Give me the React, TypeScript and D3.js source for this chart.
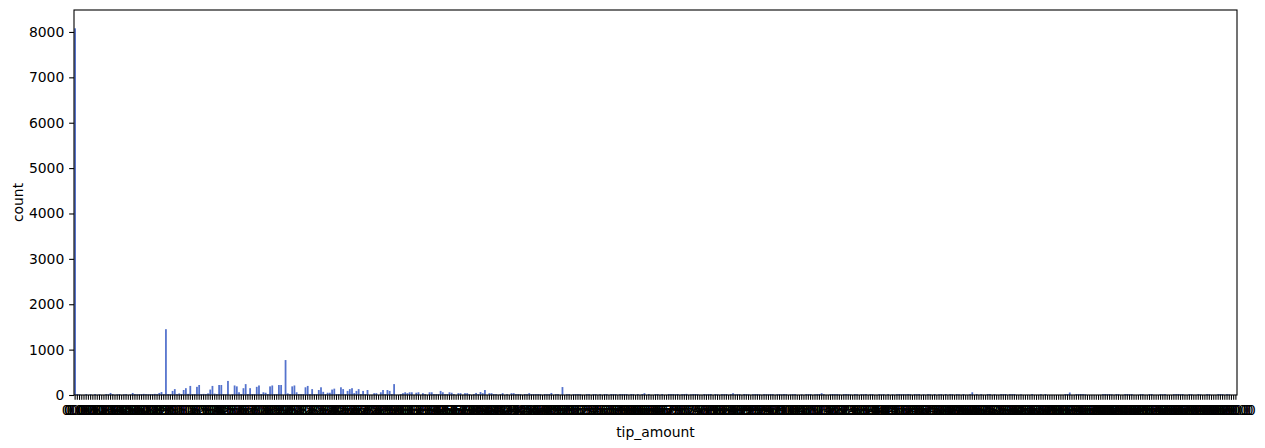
import * as d3 from 'd3';
import React, { useEffect, useRef } from 'react';

// category labels (tip_amount values as matplotlib prints them)
const tipAmounts: string[] = `
0.0 0.01 0.02 0.03 0.05 0.08 0.1 0.11 0.15 0.18 0.2 0.22 0.25 0.28 0.3 0.33 0.35 0.38 0.4 0.42 0.45 0.48 0.5 0.52 0.55 0.58 0.6 0.62 0.65 0.68 0.7 0.72 0.75 0.78 0.8 0.82 0.85 0.88 0.9 0.95 0.99
1.0
1.02 1.05 1.08 1.1 1.11 1.12 1.15 1.16 1.18 1.2 1.22 1.25 1.26 1.28 1.3 1.31 1.32 1.35 1.36 1.38 1.4 1.42 1.45 1.46 1.48 1.5 1.51 1.52 1.55 1.56 1.58 1.6 1.62 1.65 1.66 1.68 1.7 1.71 1.72 1.75 1.76 1.78 1.8 1.82 1.85 1.86 1.88 1.9 1.91 1.92 1.95 1.96 1.98
2.0
2.02 2.05 2.08 2.1 2.12 2.15 2.16 2.18 2.2 2.22 2.25 2.26 2.28 2.3 2.32 2.35 2.36 2.38 2.4 2.42 2.45 2.46 2.48 2.5 2.52 2.55 2.56 2.58 2.6 2.62 2.65 2.66 2.68 2.7 2.72 2.75 2.76 2.78 2.8 2.82 2.85 2.86 2.88 2.9 2.92 2.95 2.96 2.98
3.0
3.01 3.02 3.05 3.08 3.1 3.12 3.15 3.18 3.2 3.22 3.25 3.28 3.3 3.32 3.35 3.38 3.4 3.42 3.45 3.48 3.5 3.52 3.55 3.58 3.6 3.62 3.65 3.68 3.7 3.72 3.75 3.78 3.8 3.82 3.85 3.88 3.9 3.92 3.95 3.98
4.0
4.02 4.05 4.08 4.1 4.12 4.15 4.18 4.2 4.25 4.28 4.3 4.32 4.35 4.4 4.45 4.48 4.5 4.52 4.55 4.6 4.65 4.68 4.7 4.72 4.75 4.8 4.82 4.85 4.88 4.9 4.92 4.95 4.98 4.99
5.0
5.02 5.05 5.08 5.1 5.12 5.15 5.2 5.25 5.3 5.32 5.35 5.4 5.45 5.5 5.52 5.55 5.6 5.65 5.7 5.72 5.75 5.8 5.85 5.88 5.9 5.92 5.95 5.96 5.98 5.99
6.0
6.02 6.05 6.1 6.15 6.2 6.25 6.3 6.35 6.4 6.45 6.5 6.55 6.6 6.65 6.7 6.75 6.8 6.85 6.9 6.95
7.0
7.05 7.1 7.2 7.25 7.3 7.4 7.5 7.55 7.6 7.7 7.75 7.8 7.85 7.9 7.95
8.0
8.05 8.1 8.2 8.25 8.3 8.4 8.5 8.55 8.6 8.7 8.75 8.8 8.85 8.9 8.95
9.0
9.05 9.1 9.2 9.25 9.3 9.4 9.5 9.6 9.7 9.75 9.8 9.9
10.0
10.05 10.1 10.2 10.25 10.3 10.4 10.5 10.6 10.7 10.75 10.8 10.9
11.0
11.1 11.2 11.25 11.3 11.4 11.5 11.6 11.7 11.75 11.8
12.0
12.1 12.2 12.25 12.3 12.4 12.5 12.6 12.7 12.75 12.8
13.0
13.1 13.2 13.25 13.4 13.5 13.6 13.75 13.8
14.0
14.1 14.2 14.25 14.4 14.5 14.6 14.75 14.8
15.0
15.1 15.2 15.25 15.4 15.5 15.6 15.75 15.8
16.0
16.2 16.25 16.4 16.5 16.6 16.8
17.0
17.2 17.25 17.4 17.5 17.6 17.8
18.0
18.2 18.4 18.5 18.6 18.8
19.0
19.2 19.4 19.5 19.6 19.8
20.0
20.2 20.4 20.5 20.6 20.8
21.0
21.2 21.5 21.6 21.8
22.0
22.2 22.5 22.6 22.8
23.0
23.2 23.5 23.8
24.0
24.2 24.5 24.8
25.0
25.2 25.5 25.8
26.0
26.4 26.5
27.0
27.5 27.8
28.0
28.5 28.8
29.0
29.5 29.8
30.0
30.5 30.8
31.0
31.5 32.0 32.5 33.0 33.5 34.0 34.5 35.0 35.5 36.0 36.5 37.0 37.5 38.0 38.5 39.0 39.5 40.0
40.5 41.0 41.5 42.0 42.5 43.0 43.5 44.0 44.5 45.0 45.5 46.0 46.5 47.0 47.5 48.0 48.5 49.0 49.5 50.0
51.0 52.0 53.0 54.0 55.0 56.0 57.0 58.0 59.0 60.0 61.0 62.0 63.0 64.0 65.0 66.0 67.0 68.0 69.0 70.0
71.0 72.0 73.0 74.0 75.0 76.0 77.0 78.0 79.0 80.0 85.0 90.0 95.0 100.0 110.0 120.0 130.0 150.0
`.trim().split(/\s+/);

// count per tip_amount, same order as tipAmounts
const tipCounts: number[] = [
  8080, 20, 15, 2, 3, 20, 1, 15, 2, 20,
  3, 15, 1, 2, 20, 15, 45, 20, 3, 15,
  20, 2, 15, 20, 1, 15, 45, 20, 15, 20,
  20, 25, 20, 15, 20, 20, 25, 20, 45, 65,
  20, 1450, 20, 20, 90, 130, 20, 35, 20, 110,
  150, 25, 200, 20, 20, 180, 220, 20, 25, 20,
  35, 120, 200, 30, 20, 220, 220, 20, 15, 310,
  3, 15, 210, 190, 60, 20, 150, 240, 20, 150,
  20, 20, 180, 210, 20, 60, 50, 20, 190, 210,
  20, 20, 220, 220, 4, 770, 35, 20, 190, 210,
  60, 20, 20, 20, 170, 200, 20, 130, 20, 20,
  110, 170, 70, 20, 50, 50, 120, 140, 20, 20,
  170, 130, 20, 90, 130, 150, 40, 90, 130, 20,
  90, 20, 110, 2, 3, 40, 40, 1, 60, 110,
  20, 110, 90, 20, 240, 3, 2, 20, 40, 60,
  40, 60, 60, 2, 50, 60, 3, 40, 20, 1,
  60, 60, 20, 20, 20, 90, 60, 20, 20, 60,
  50, 20, 2, 40, 40, 3, 40, 40, 20, 1,
  20, 45, 20, 65, 40, 110, 2, 40, 40, 20,
  20, 3, 20, 40, 1, 20, 2, 40, 40, 20,
  20, 20, 3, 20, 20, 40, 20, 20, 20, 20,
  20, 2, 20, 20, 20, 45, 1, 20, 20, 3,
  175, 2, 20, 20, 1, 20, 20, 20, 20, 3,
  2, 20, 20, 1, 20, 20, 3, 20, 2, 20,
  20, 1, 20, 20, 20, 2, 20, 20, 20, 20,
  3, 20, 20, 2, 20, 1, 20, 40, 2, 20,
  3, 1, 20, 20, 2, 20, 1, 3, 20, 20,
  20, 15, 22, 2, 18, 20, 25, 1, 15, 20,
  22, 18, 3, 2, 20, 15, 18, 22, 1, 20,
  15, 2, 20, 18, 22, 3, 20, 40, 15, 20,
  18, 1, 22, 20, 15, 2, 18, 20, 22, 15,
  3, 20, 18, 15, 22, 20, 2, 18, 20, 15,
  22, 20, 1, 15, 18, 20, 3, 2, 15, 1,
  20, 18, 22, 2, 15, 20, 22, 40, 18, 3,
  1, 20, 22, 18, 20, 15, 2, 20, 22, 18,
  15, 3, 20, 18, 1, 20, 15, 22, 2, 20,
  18, 1, 3, 20, 15, 18, 2, 20, 1, 15,
  3, 20, 22, 18, 20, 15, 22, 20, 2, 20,
  18, 22, 1, 15, 3, 20, 18, 2, 20, 1,
  15, 20, 3, 22, 2, 20, 18, 1, 20, 15,
  2, 20, 3, 1, 18, 60, 2, 20, 1, 18,
  3, 2, 20, 22, 1, 15, 3, 2, 20, 18,
  22, 1, 20, 18, 20, 3, 2, 15, 1, 2,
  3, 1, 20, 2, 1, 3, 18, 2, 20, 1,
  2, 3, 1, 2, 1, 3, 2, 20, 22, 55,
  2, 3, 20, 18, 22, 20, 15, 2, 1, 3,
  2, 1, 2, 3, 20, 22, 18, 20, 15, 2,
  20, 18, 1, 3, 20, 22, 18, 20, 2, 1,
  3, 20, 18, 2, 1, 20, 22, 2, 3, 1,
  20, 15, 20, 2, 1, 3, 18, 20, 22, 18,
  20, 2, 1, 20, 18, 2, 3, 20, 15, 1,
  2, 20, 18, 3, 1, 2, 20, 22, 18, 2,
  20, 15, 1, 2, 3,
];

const yTicks = [0, 1000, 2000, 3000, 4000, 5000, 6000, 7000, 8000];

export default function App() {
  const svgRef = useRef<SVGSVGElement>(null);
  const width = 1265;
  const height = 448;

  useEffect(() => {
    document.body.style.margin = '0';
    const svg = d3.select(svgRef.current);
    const margin = { top: 10, right: 28, bottom: 53, left: 74 };
    const plotWidth = width - margin.left - margin.right;
    const plotHeight = height - margin.top - margin.bottom;
    const font = 'DejaVu Sans, sans-serif';
    const fontSize = 13.9;
    const tick = 4.86;

    svg.selectAll('*').remove();

    const g = svg
      .append('g')
      .attr('transform', `translate(${margin.left},${margin.top})`);

    const x = d3
      .scaleBand()
      .domain(tipAmounts)
      .range([0, plotWidth])
      .paddingInner(0.2)
      .paddingOuter(0.1);

    const y = d3
      .scaleLinear()
      .domain([0, d3.max(tipCounts) * 1.05])
      .range([plotHeight, 0]);

    g.selectAll('.bar')
      .data(tipAmounts)
      .enter()
      .append('rect')
      .attr('class', 'bar')
      .attr('x', (d) => x(d))
      .attr('y', (d, i) => y(tipCounts[i]))
      .attr('width', x.bandwidth())
      .attr('height', (d, i) => plotHeight - y(tipCounts[i]))
      .attr('fill', '#5573cd');

    const xAxis = g
      .append('g')
      .attr('transform', `translate(0,${plotHeight})`)
      .call(d3.axisBottom(x).tickSize(tick).tickPadding(tick));
    xAxis.select('.domain').remove();
    xAxis.selectAll('line').attr('stroke', '#000').attr('stroke-width', 1.1);
    xAxis
      .selectAll('text')
      .attr('dy', '0.775em')
      .style('font-family', font)
      .style('font-size', `${fontSize}px`)
      .attr('fill', '#000');

    const yAxis = g
      .append('g')
      .call(
        d3.axisLeft(y)
          .tickValues(yTicks)
          .tickFormat(d3.format('d'))
          .tickSize(tick)
          .tickPadding(tick)
      );
    yAxis.select('.domain').remove();
    yAxis.selectAll('line').attr('stroke', '#000').attr('stroke-width', 1.1);
    yAxis
      .selectAll('text')
      .style('font-family', font)
      .style('font-size', `${fontSize}px`)
      .attr('fill', '#000');

    // spines
    g.append('rect')
      .attr('x', 0)
      .attr('y', 0)
      .attr('width', plotWidth)
      .attr('height', plotHeight)
      .attr('fill', 'none')
      .attr('stroke', '#000')
      .attr('stroke-width', 1.1);

    svg.append('text')
      .attr('x', margin.left + plotWidth / 2)
      .attr('y', 437)
      .attr('text-anchor', 'middle')
      .style('font-family', font)
      .style('font-size', `${fontSize}px`)
      .text('tip_amount');

    svg.append('text')
      .attr('transform', `translate(23,${margin.top + plotHeight / 2}) rotate(-90)`)
      .attr('text-anchor', 'middle')
      .style('font-family', font)
      .style('font-size', `${fontSize}px`)
      .text('count');
  }, []);

  return <svg ref={svgRef} width={width} height={height} style={{ display: 'block' }} />;
}
